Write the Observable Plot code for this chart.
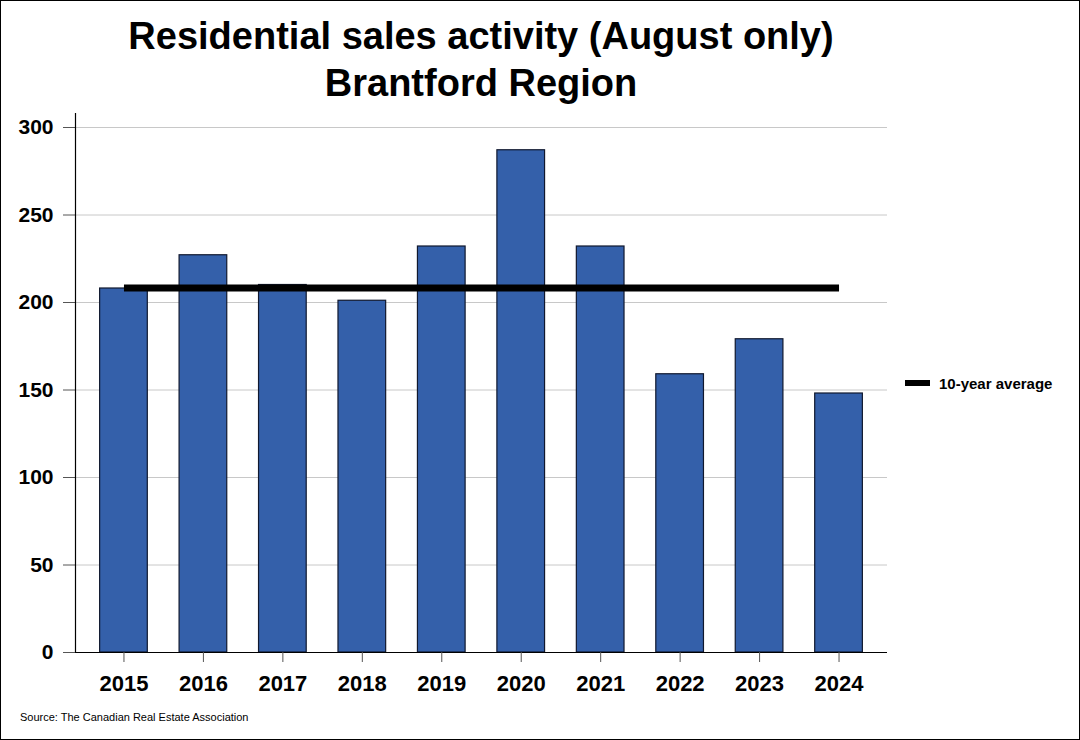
<!DOCTYPE html>
<html>
<head>
<meta charset="utf-8">
<script src="https://cdn.jsdelivr.net/npm/d3@7"></script>
<script src="https://cdn.jsdelivr.net/npm/@observablehq/plot@0.6"></script>
<style>
  html, body { margin: 0; padding: 0; background: #fff; }
  #wrap { position: relative; width: 1080px; height: 740px; overflow: hidden; font-family: "Liberation Sans", Arial, sans-serif; }
  #border { position: absolute; left: 0; top: 0; width: 1080px; height: 740px; box-sizing: border-box; border: 1px solid #000; pointer-events: none; }
  #title { position: absolute; left: 0; top: 13px; width: 962px; text-align: center; font-size: 38px; font-weight: bold; line-height: 47px; color: #000; }
  #chart { position: absolute; left: 0; top: 0; }
  #legend { position: absolute; left: 905px; top: 376px; height: 15px; }
  #legend .swatch { position: absolute; left: 0; top: 4px; width: 25px; height: 6px; background: #000; }
  #legend .label { position: absolute; left: 34px; top: 0; font-size: 15px; line-height: 15px; font-weight: bold; white-space: nowrap; }
  #source { position: absolute; left: 20px; top: 712px; font-size: 11px; line-height: 11px; color: #000; white-space: nowrap; }
</style>
</head>
<body>
<div id="wrap">
  <div id="chart"></div>
  <div id="title">Residential sales activity (August only)<br>Brantford Region</div>
  <div id="legend"><div class="swatch"></div><div class="label">10-year average</div></div>
  <div id="source">Source: The Canadian Real Estate Association</div>
  <div id="border"></div>
</div>
<script>
const years = ["2015","2016","2017","2018","2019","2020","2021","2022","2023","2024"];
const sales = [208, 227, 210, 201, 232, 287, 232, 159, 179, 148];
const tenYearAverage = 208.3;
const yTicks = [0, 50, 100, 150, 200, 250, 300];
const gridTicks = [50, 100, 150, 200, 250, 300];

const data = years.map((year, i) => ({year, value: sales[i], avg: tenYearAverage}));

const chart = Plot.plot({
  width: 1080,
  height: 740,
  marginTop: 113,
  marginBottom: 88,
  marginLeft: 75,
  marginRight: 193,
  style: {fontFamily: "'Liberation Sans', Arial, sans-serif", color: "#000", background: "transparent"},
  x: {type: "band", domain: years, paddingInner: 0.4, paddingOuter: 0.31, align: 0.5, round: false, label: null},
  y: {domain: [0, 308], label: null},
  marks: [
    Plot.ruleY(gridTicks, {stroke: "#c8c8c8", strokeWidth: 1}),
    Plot.barY(data, {x: "year", y: "value", fill: "#3460AA", stroke: "#10182e", strokeWidth: 1.2}),
    Plot.lineY(data, {x: "year", y: "avg", stroke: "#000", strokeWidth: 7, strokeLinecap: "butt"}),
    Plot.ruleY([0], {stroke: "#000", strokeWidth: 1.2}),
    Plot.axisY({ticks: yTicks, tickSize: 12, tickPadding: 10, fontSize: 21, fontWeight: "bold", stroke: "#555", label: null}),
    Plot.axisX({tickSize: 10, tickPadding: 13, fontSize: 22, fontWeight: "bold", stroke: "#555", label: null})
  ]
});
document.getElementById("chart").appendChild(chart);

// y axis line along the left edge of the frame
d3.select(chart).append("line")
  .attr("x1", 75.5).attr("x2", 75.5)
  .attr("y1", 113).attr("y2", 652)
  .attr("stroke", "#000").attr("stroke-width", 1.2);
</script>
</body>
</html>
